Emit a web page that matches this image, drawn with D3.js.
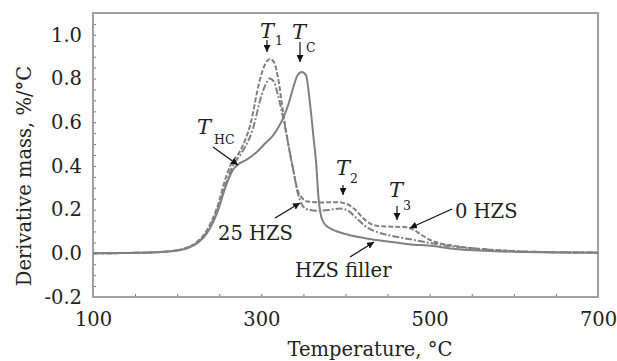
<!DOCTYPE html>
<html>
<head>
<meta charset="utf-8">
<script src="https://cdn.jsdelivr.net/npm/d3@7"></script>
<style>
  body { margin: 0; background: #fff; }
  text { font-family: "DejaVu Serif", serif; fill: #222; }
</style>
</head>
<body>
<div id="chart"></div>
<script>
// chart data
var xTicks = [100, 300, 500, 700];
var yTicks = [-0.2, 0.0, 0.2, 0.4, 0.6, 0.8, 1.0];

var tempZero = [100,150,180,200,212,225,235,247,259,263,275,287,298,305,310,315,320,326,332,338,343,348,355,370,390,400,410,420,430,440,455,470,480,490,500,510,530,560,600,650,700];
var zeroHZS  = [0,0.002,0.006,0.014,0.027,0.057,0.103,0.205,0.36,0.40,0.47,0.59,0.79,0.87,0.89,0.875,0.80,0.64,0.50,0.38,0.29,0.255,0.237,0.233,0.234,0.228,0.205,0.165,0.135,0.124,0.122,0.12,0.11,0.085,0.062,0.048,0.034,0.02,0.01,0.005,0.003];

var temp25 = [100,150,180,200,212,225,235,247,259,266,275,290,300,306,310,315,320,326,332,338,343,348,355,365,380,393,402,412,425,437,455,477,500,520,560,600,650,700];
var hzs25  = [0,0.002,0.006,0.014,0.025,0.053,0.096,0.19,0.33,0.40,0.45,0.57,0.72,0.78,0.80,0.785,0.72,0.62,0.50,0.38,0.28,0.225,0.2,0.195,0.198,0.205,0.198,0.165,0.12,0.098,0.08,0.064,0.048,0.035,0.02,0.01,0.005,0.003];

var tempFiller = [100,150,180,200,212,225,235,247,259,266,272,283,295,305,314,320,326,332,338,343,348,353,358,362,365,368,371,375,380,390,400,425,450,475,504,530,560,600,650,700];
var hzsFiller  = [0,0.002,0.006,0.013,0.023,0.05,0.09,0.18,0.32,0.38,0.405,0.43,0.465,0.505,0.54,0.575,0.62,0.68,0.76,0.815,0.83,0.815,0.68,0.53,0.42,0.25,0.17,0.135,0.118,0.1,0.088,0.068,0.054,0.042,0.033,0.02,0.013,0.007,0.004,0.003];

var width = 617, height = 361;
var plotLeft = 93, plotRight = 598, plotTop = 13, plotBottom = 297;

var svg = d3.select("#chart")
    .append("svg")
    .attr("width", width)
    .attr("height", height);

var x = d3.scaleLinear().domain([100, 700]).range([plotLeft, plotRight]);
var y = d3.scaleLinear().domain([-0.2, 1.1]).range([plotBottom, plotTop]);

// minor ticks
svg.append("g")
    .attr("transform", "translate(" + plotLeft + ",0)")
    .call(d3.axisLeft(y).tickValues(d3.range(-0.2, 1.101, 0.05)).tickSize(-3).tickFormat(""))
    .call(function(g) { g.select(".domain").remove(); g.selectAll("line").attr("stroke", "#777"); });

svg.append("g")
    .attr("transform", "translate(0," + plotBottom + ")")
    .call(d3.axisBottom(x).tickValues(d3.range(100, 701, 50)).tickSize(-3).tickFormat(""))
    .call(function(g) { g.select(".domain").remove(); g.selectAll("line").attr("stroke", "#777"); });

// labels (plain hyphen for the minus, as in the original)
var fmt = d3.format(".1f");
svg.append("g")
    .attr("transform", "translate(" + plotLeft + ",0)")
    .call(d3.axisLeft(y).tickValues(yTicks).tickSize(0).tickPadding(11)
        .tickFormat(function(d) { return fmt(d).replace("\u2212", "-"); }))
    .call(function(g) {
        g.select(".domain").remove();
        g.selectAll("text").style("font-family", "DejaVu Serif").style("font-size", "19.5px").attr("fill", "#222");
    });

svg.append("g")
    .attr("transform", "translate(0," + plotBottom + ")")
    .call(d3.axisBottom(x).tickValues(xTicks).tickSize(0).tickPadding(15))
    .call(function(g) {
        g.select(".domain").remove();
        g.selectAll("text").style("font-family", "DejaVu Serif").style("font-size", "19.5px").attr("fill", "#222");
    });

// frame
svg.append("rect")
    .attr("x", plotLeft).attr("y", plotTop)
    .attr("width", plotRight - plotLeft).attr("height", plotBottom - plotTop)
    .attr("fill", "none").attr("stroke", "#a0a0a0").attr("stroke-width", 2);

// axis titles
svg.append("text")
    .attr("x", 370).attr("y", 356)
    .attr("text-anchor", "middle")
    .style("font-size", "19.5px")
    .text("Temperature, \u00B0C");

svg.append("text")
    .attr("transform", "translate(31,176) rotate(-90)")
    .attr("text-anchor", "middle")
    .style("font-size", "19.5px")
    .text("Derivative mass, %/\u00B0C");

// curves
var line = d3.line()
    .x(function(d) { return x(d[0]); })
    .y(function(d) { return y(d[1]); })
    .curve(d3.curveMonotoneX);

var series = [
    { t: tempFiller, v: hzsFiller, dash: null },
    { t: temp25, v: hzs25, dash: "7,2,2,2" },
    { t: tempZero, v: zeroHZS, dash: "5,2" }
];

series.forEach(function(s) {
    svg.append("path")
        .datum(d3.zip(s.t, s.v))
        .attr("d", line)
        .attr("fill", "none")
        .attr("stroke", "#808080")
        .attr("stroke-width", 2)
        .attr("stroke-dasharray", s.dash);
});

// arrows
svg.append("defs").append("marker")
    .attr("id", "head")
    .attr("viewBox", "0 0 10 10")
    .attr("refX", 10).attr("refY", 5)
    .attr("markerWidth", 7).attr("markerHeight", 7)
    .attr("markerUnits", "userSpaceOnUse")
    .attr("orient", "auto")
    .append("path")
    .attr("d", "M0,0L10,5L0,10z")
    .attr("fill", "#111");

var arrows = [
    [267, 40, 267, 52],
    [300, 42, 300, 62],
    [213, 147, 238, 165],
    [343, 185, 343, 195],
    [397, 206, 397, 220],
    [452, 209, 410, 228],
    [275, 218, 300, 203],
    [350, 257, 374, 242]
];
arrows.forEach(function(a) {
    svg.append("line")
        .attr("x1", a[0]).attr("y1", a[1]).attr("x2", a[2]).attr("y2", a[3])
        .attr("stroke", "#111").attr("stroke-width", 1.2)
        .attr("marker-end", "url(#head)");
});

// temperature labels
var tLabels = [
    { x: 260, y: 38, sub: "1", sx: 275, sy: 45 },
    { x: 292, y: 39, sub: "C", sx: 306, sy: 52 },
    { x: 197, y: 134, sub: "HC", sx: 214, sy: 144 },
    { x: 336, y: 175, sub: "2", sx: 350, sy: 183 },
    { x: 389, y: 197, sub: "3", sx: 403, sy: 210 }
];
tLabels.forEach(function(l) {
    svg.append("text").attr("x", l.x).attr("y", l.y)
        .style("font-size", "21px").style("font-style", "italic").text("T");
    svg.append("text").attr("x", l.sx).attr("y", l.sy)
        .style("font-size", "12.5px").text(l.sub);
});

// series labels
var sLabels = [
    { x: 455, y: 218, text: "0 HZS" },
    { x: 218, y: 240, text: "25 HZS" },
    { x: 295, y: 277, text: "HZS filler" }
];
sLabels.forEach(function(l) {
    svg.append("text").attr("x", l.x).attr("y", l.y)
        .style("font-size", "19.5px").text(l.text);
});
</script>
</body>
</html>
